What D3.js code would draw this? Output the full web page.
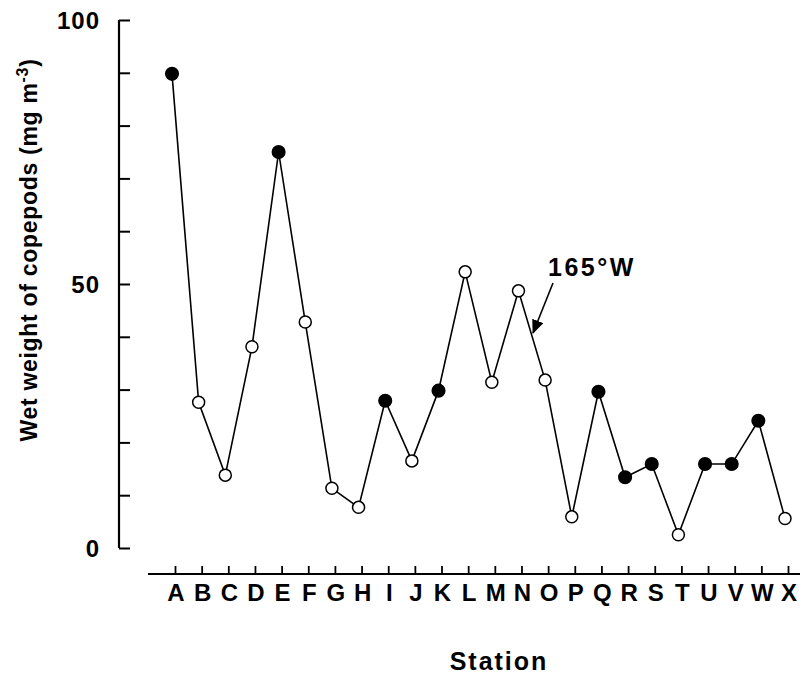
<!DOCTYPE html>
<html>
<head>
<meta charset="utf-8">
<script src="https://cdn.jsdelivr.net/npm/d3@7"></script>
<style>
  body { margin: 0; background: #fff; }
  text { font-family: "Liberation Sans", Arial, Helvetica, sans-serif; font-weight: bold; fill: #000; }
</style>
</head>
<body>
<div id="chart"></div>
<script>
	'use strict';

	// station letters along the transect
	var stations = ['A', 'B', 'C', 'D', 'E', 'F', 'G', 'H', 'I', 'J', 'K', 'L',
			'M', 'N', 'O', 'P', 'Q', 'R', 'S', 'T', 'U', 'V', 'W', 'X'];

	// wet weight of copepods, mg m-3
	var weights = [89.8, 27.6, 13.8, 38.1, 75.0, 42.8, 11.3, 7.7, 27.9, 16.5, 29.8, 52.3,
			31.4, 48.7, 31.8, 5.9, 29.6, 13.4, 15.9, 2.5, 15.9, 15.9, 24.1, 5.6];

	// 1 = filled marker, 0 = open marker
	var filled = [1, 0, 0, 0, 1, 0, 0, 0, 1, 0, 1, 0,
			0, 0, 0, 0, 1, 1, 1, 0, 1, 1, 1, 0];

	var yTicks = [0, 10, 20, 30, 40, 50, 60, 70, 80, 90, 100],
			yLabels = [0, 50, 100];

	var width = 812,
			height = 674;

	var data = stations.map(function (s, i) {
		return { station: s, value: weights[i], night: filled[i] === 1 };
	});

	var svg = d3.select('#chart')
		.append('svg')
		.attr('width', width)
		.attr('height', height);

	var x = d3.scalePoint()
		.domain(stations)
		.range([172, 785]);

	var y = d3.scaleLinear()
		.domain([0, 100])
		.range([548, 20]);

	// y axis, ticks pointing inward
	var yAxis = svg.append('g')
		.attr('transform', 'translate(119,0)')
		.call(d3.axisRight(y).tickValues(yTicks).tickSize(11).tickFormat(''));
	yAxis.select('.domain')
		.attr('d', 'M0,' + y(100) + 'V' + y(0))
		.attr('stroke', '#000')
		.attr('stroke-width', 2.2);
	yAxis.selectAll('.tick line')
		.attr('stroke', '#000')
		.attr('stroke-width', 2);

	svg.selectAll('.ylab')
		.data(yLabels)
		.enter().append('text')
		.attr('class', 'ylab')
		.attr('x', 100)
		.attr('y', function (d) { return y(d); })
		.attr('dy', '0.36em')
		.attr('text-anchor', 'end')
		.attr('font-size', 24)
		.attr('letter-spacing', 1)
		.text(function (d) { return d; });

	// x axis, ticks pointing up
	var xAxis = svg.append('g')
		.attr('transform', 'translate(3,574)')
		.call(d3.axisTop(x).tickSize(8).tickFormat(''));
	xAxis.select('.domain')
		.attr('d', 'M145,0H797')
		.attr('stroke', '#000')
		.attr('stroke-width', 1.8);
	xAxis.selectAll('.tick line')
		.attr('stroke', '#000')
		.attr('stroke-width', 1.8);

	svg.selectAll('.xlab')
		.data(stations)
		.enter().append('text')
		.attr('class', 'xlab')
		.attr('x', function (d) { return x(d) + 4; })
		.attr('y', 601)
		.attr('text-anchor', 'middle')
		.attr('font-size', 24)
		.text(function (d) { return d; });

	// axis titles
	svg.append('text')
		.attr('x', 499)
		.attr('y', 670)
		.attr('text-anchor', 'middle')
		.attr('font-size', 25)
		.attr('letter-spacing', 2)
		.text('Station');

	var yTitle = svg.append('text')
		.attr('transform', 'translate(37,250) rotate(-90)')
		.attr('text-anchor', 'middle')
		.attr('font-size', 23)
		.attr('letter-spacing', 0.7);
	yTitle.append('tspan').text('Wet weight of copepods (mg m');
	yTitle.append('tspan').attr('font-size', 16).attr('dy', -9).text('-3');
	yTitle.append('tspan').attr('dy', 9).text(')');

	// series line
	var line = d3.line()
		.x(function (d) { return x(d.station); })
		.y(function (d) { return y(d.value); });

	svg.append('path')
		.datum(data)
		.attr('fill', 'none')
		.attr('stroke', '#000')
		.attr('stroke-width', 1.6)
		.attr('d', line);

	svg.selectAll('.pt')
		.data(data)
		.enter().append('circle')
		.attr('class', 'pt')
		.attr('cx', function (d) { return x(d.station); })
		.attr('cy', function (d) { return y(d.value); })
		.attr('r', function (d) { return d.night ? 6.3 : 6; })
		.attr('fill', function (d) { return d.night ? '#000' : '#fff'; })
		.attr('stroke', '#000')
		.attr('stroke-width', 1.5);

	// 165°W annotation
	svg.append('defs').append('marker')
		.attr('id', 'arrow')
		.attr('viewBox', '0 0 14 12')
		.attr('refX', 13)
		.attr('refY', 6)
		.attr('markerWidth', 14)
		.attr('markerHeight', 12)
		.attr('markerUnits', 'userSpaceOnUse')
		.attr('orient', 'auto')
		.append('path')
		.attr('d', 'M0,0L14,6L0,12Z')
		.attr('fill', '#000');

	svg.append('line')
		.attr('x1', 553)
		.attr('y1', 283)
		.attr('x2', 533)
		.attr('y2', 333)
		.attr('stroke', '#000')
		.attr('stroke-width', 1.6)
		.attr('marker-end', 'url(#arrow)');

	svg.append('text')
		.attr('x', 548)
		.attr('y', 276)
		.attr('font-size', 25)
		.attr('letter-spacing', 2.5)
		.text('165°W');
</script>
</body>
</html>
